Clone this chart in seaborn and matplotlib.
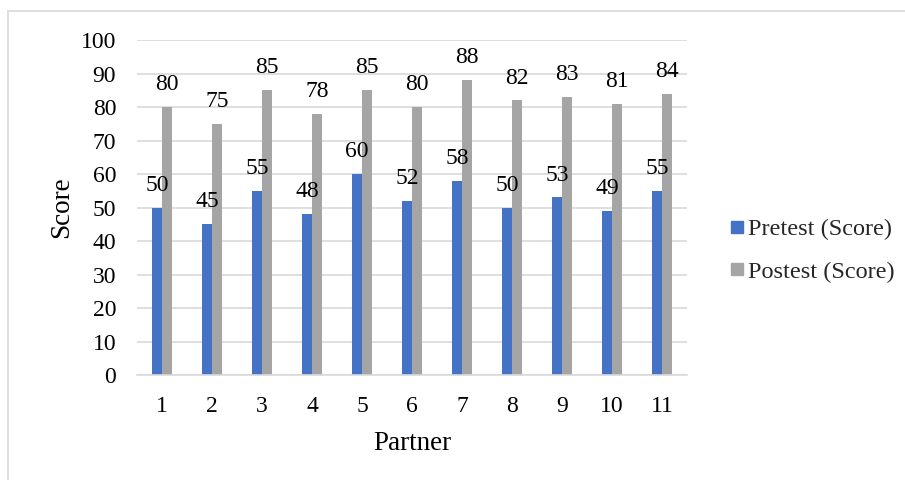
import matplotlib
matplotlib.use("Agg")
import matplotlib.pyplot as plt
from matplotlib.lines import Line2D
import seaborn as sns
import pandas as pd

partners = ["1", "2", "3", "4", "5", "6", "7", "8", "9", "10", "11"]
pretest = [50, 45, 55, 48, 60, 52, 58, 50, 53, 49, 55]
postest = [80, 75, 85, 78, 85, 80, 88, 82, 83, 81, 84]
series_names = ["Pretest (Score)", "Postest (Score)"]
y_ticks = [0, 10, 20, 30, 40, 50, 60, 70, 80, 90, 100]

df = pd.DataFrame({
    "Partner": partners * 2,
    "Score": pretest + postest,
    "Series": [series_names[0]] * len(partners) + [series_names[1]] * len(partners),
})

sns.set_theme(style="white")
plt.rcParams["font.family"] = ["Liberation Serif", "DejaVu Serif"]

fig = plt.figure(figsize=(9.05, 4.8), dpi=100)
ax = fig.add_axes([0.1514, 0.21875, 0.6077, 0.6979])

palette = {series_names[0]: "#4472C4", series_names[1]: "#A5A5A5"}
sns.barplot(data=df, x="Partner", y="Score", hue="Series", palette=palette,
            width=0.4, gap=0, saturation=1, linewidth=0, ax=ax, legend=False)

for container in ax.containers:
    ax.bar_label(container, fmt="%d", padding=8.5, fontsize=17, color="#000000")

ax.set_ylim(0, 100)
ax.set_xlim(-0.5, len(partners) - 0.5)
ax.set_yticks(y_ticks)
ax.yaxis.grid(True, color="#D9D9D9", linewidth=1.2)
ax.set_axisbelow(True)
for side in ["top", "right", "left"]:
    ax.spines[side].set_visible(False)
ax.spines["bottom"].set_color("#D9D9D9")
ax.spines["bottom"].set_linewidth(1.2)
ax.tick_params(axis="both", length=0, labelsize=17, colors="#000000")
ax.tick_params(axis="x", pad=15)
ax.tick_params(axis="y", pad=15)
ax.set_xlabel("Partner", fontsize=19.5, color="#000000", labelpad=10)
ax.set_ylabel("Score", fontsize=19.5, color="#000000", labelpad=5)

handles = [Line2D([0], [0], marker="s", linestyle="none", markersize=9,
                  markerfacecolor=palette[n], markeredgecolor=palette[n])
           for n in series_names]
fig.legend(handles, series_names, loc="center left", bbox_to_anchor=(0.779, 0.478),
           frameon=False, fontsize=17.5, handletextpad=0.05, labelspacing=0.85,
           handlelength=0.8)

# Outer chart frame (top and left edges)
fig.add_artist(Line2D([8 / 905, 1.0], [1 - 11 / 480, 1 - 11 / 480],
                      transform=fig.transFigure, color="#D9D9D9", linewidth=1.2))
fig.add_artist(Line2D([8 / 905, 8 / 905], [0.0, 1 - 11 / 480],
                      transform=fig.transFigure, color="#D9D9D9", linewidth=1.2))

fig.savefig("out.png", dpi=100, facecolor="white")
